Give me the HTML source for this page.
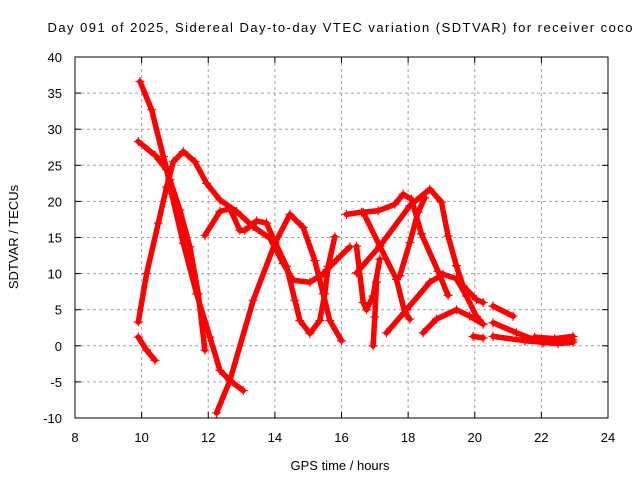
<!DOCTYPE html>
<html><head><meta charset="utf-8"><style>body{margin:0;background:#fff}svg{display:block}text{font-family:"Liberation Sans",sans-serif;fill:#000}</style></head>
<body>
<svg id="chart" width="640" height="480">
<rect width="640" height="480" fill="#fff"/>
<text x="340" y="32" font-size="13" text-anchor="middle" textLength="585">Day 091 of 2025, Sidereal Day-to-day VTEC variation (SDTVAR) for receiver coco</text>
<g id="grid"></g><g id="series"></g>
<rect x="75" y="57" width="533" height="361" fill="none" stroke="#000" stroke-width="1"/>
<g id="ticks"></g>
<text x="340" y="470" font-size="13" text-anchor="middle">GPS time / hours</text>
<text x="18" y="237" font-size="13" text-anchor="middle" transform="rotate(-90 18 237)">SDTVAR / TECUs</text>
</svg>
<script>
const xTicks=[8,10,12,14,16,18,20,22,24];
const yTicks=[-10,-5,0,5,10,15,20,25,30,35,40];
const trackA=[[9.95,36.6],[10.3,32.7],[10.65,26.2],[10.85,23],[11.15,18.8],[11.45,13.7],[11.7,7.2],[11.9,-0.6]];
const trackB=[[9.9,28.3],[10.4,26.4],[10.75,24.4],[10.9,21.1],[11.25,14.2],[11.65,7.2],[12.05,1.2],[12.35,-3.4],[12.65,-4.8],[13.05,-6.2]];
const trackC=[[9.9,3.3],[10.15,10],[10.5,17],[10.75,22],[10.95,25.5],[11.25,26.9],[11.6,25.5],[11.95,22.5],[12.35,20.2],[12.85,18.6],[13.35,16.5],[13.85,14.9],[14.25,11.4],[14.55,9.1],[15.05,8.8],[15.45,10],[15.85,11.9],[16.25,13.7]];
const trackD=[[12.25,-9.3],[12.65,-4.8],[13.35,6.3],[14,14.2],[14.45,18.2],[14.85,16.4],[15.2,11.8],[15.45,7.2],[15.65,3.5],[16,0.7]];
const trackE=[[9.9,1.2],[10.15,-0.6],[10.4,-2]];
const trackF=[[11.9,15.3],[12.35,18.6],[12.65,19],[12.95,16],[13.1,16],[13.45,17.3],[13.75,17],[14,14.4],[14.35,11],[14.6,6.3],[14.75,3.5],[15.05,1.7],[15.35,3.5],[15.5,7.2],[15.6,11],[15.8,15.1]];
const trackH1=[[16.15,18.2],[16.6,18.5],[17.1,18.7],[17.6,19.6],[17.85,21],[18.1,20.3],[18.4,15.5],[18.9,10.3],[19.2,7]];
const trackH2=[[16.45,10.1],[17.15,13.8],[18.05,19.4],[18.65,21.7],[19.0,19.9],[19.2,15.2],[19.45,11.1],[19.65,8.3],[20.05,6.4],[20.25,6]];
const trackH3=[[16.65,18.5],[17.15,13.8],[17.65,9.2],[17.9,4.6],[18.05,3.7]];
const trackI=[[17.35,1.8],[17.95,5],[18.65,8.8],[19.05,9.9],[19.45,9.3],[19.75,6.9],[20.05,4.1],[20.25,3]];
const trackJ=[[18.45,1.8],[18.85,3.7],[19.45,5],[19.85,4.1],[20.25,3]];
const trackK=[[17.75,9.7],[18.05,14.3],[18.3,18.5],[18.5,20.5]];
const trackL=[[16.45,13.8],[16.65,6],[16.75,5],[16.95,6.9],[17.15,12]];
const trackL2=[[16.95,0],[17.0,4],[17.05,8.8]];
const trackM=[[19.95,1.3],[20.25,1.1]];
const trackN=[[20.55,5.5],[21.15,4.1]];
const trackO=[[20.55,3.2],[21.25,1.8],[22.05,0.4],[22.95,0.8]];
const trackP=[[20.55,1.3],[21.5,0.7],[22.5,0.3],[22.95,0.5]];
const trackQ=[[21.8,1.2],[22.4,1.0],[22.95,1.3]];
const tracks=[trackA,trackB,trackC,trackD,trackE,trackF,trackH1,trackH2,trackH3,trackI,trackJ,trackK,trackL,trackL2,trackM,trackN,trackO,trackP,trackQ];
const NS='http://www.w3.org/2000/svg';
const X0=75,X1=608,Y0=418,Y1=57;
const xs=t=>X0+(t-8)/(24-8)*(X1-X0);
const ys=v=>Y0-(v+10)/(40+10)*(Y0-Y1);
const grid=document.getElementById('grid'),tk=document.getElementById('ticks'),ser=document.getElementById('series');
function mk(tag,at,parent){const e=document.createElementNS(NS,tag);for(const k in at)e.setAttribute(k,at[k]);parent.appendChild(e);return e;}
xTicks.forEach(t=>{const x=xs(t);
 if(t>8&&t<24){const g=mk('line',{x1:x,x2:x,y1:Y1,y2:Y0,stroke:'#a0a0a0','stroke-dasharray':'3,3'},grid);
 
 }
 mk('line',{x1:x,x2:x,y1:Y0,y2:Y0-6,stroke:'#000'},tk);mk('line',{x1:x,x2:x,y1:Y1,y2:Y1+6,stroke:'#000'},tk);
 const l=mk('text',{x:x,y:442,'font-size':13,'text-anchor':'middle'},tk);l.textContent=t;
 
 });
yTicks.forEach(v=>{const y=ys(v);
 if(v>-10&&v<40){const g=mk('line',{x1:X0,x2:X1,y1:y,y2:y,stroke:'#a0a0a0','stroke-dasharray':'3,3'},grid);
 
 }
 mk('line',{x1:X0,x2:X0+6,y1:y,y2:y,stroke:'#000'},tk);mk('line',{x1:X1,x2:X1-6,y1:y,y2:y,stroke:'#000'},tk);
 const l=mk('text',{x:62,y:y+5,'font-size':13,'text-anchor':'end'},tk);l.textContent=v;
 
 });
tracks.forEach((tr,i)=>{
 const pts=tr.map(p=>xs(p[0]).toFixed(1)+','+ys(p[1]).toFixed(1)).join(' ');
 const pl=mk('polyline',{points:pts,fill:'none',stroke:'#ff0000','stroke-width':5.5,'stroke-linejoin':'round','stroke-linecap':'round'},ser);
 
 
 tr.forEach(p=>{const x=xs(p[0]),y=ys(p[1]);
  const m=mk('path',{d:`M${x-4.5},${y}h9M${x},${y-4.5}v9`,stroke:'#ff0000','stroke-width':1.2},ser);
  
  });
});
</script>
</body></html>
